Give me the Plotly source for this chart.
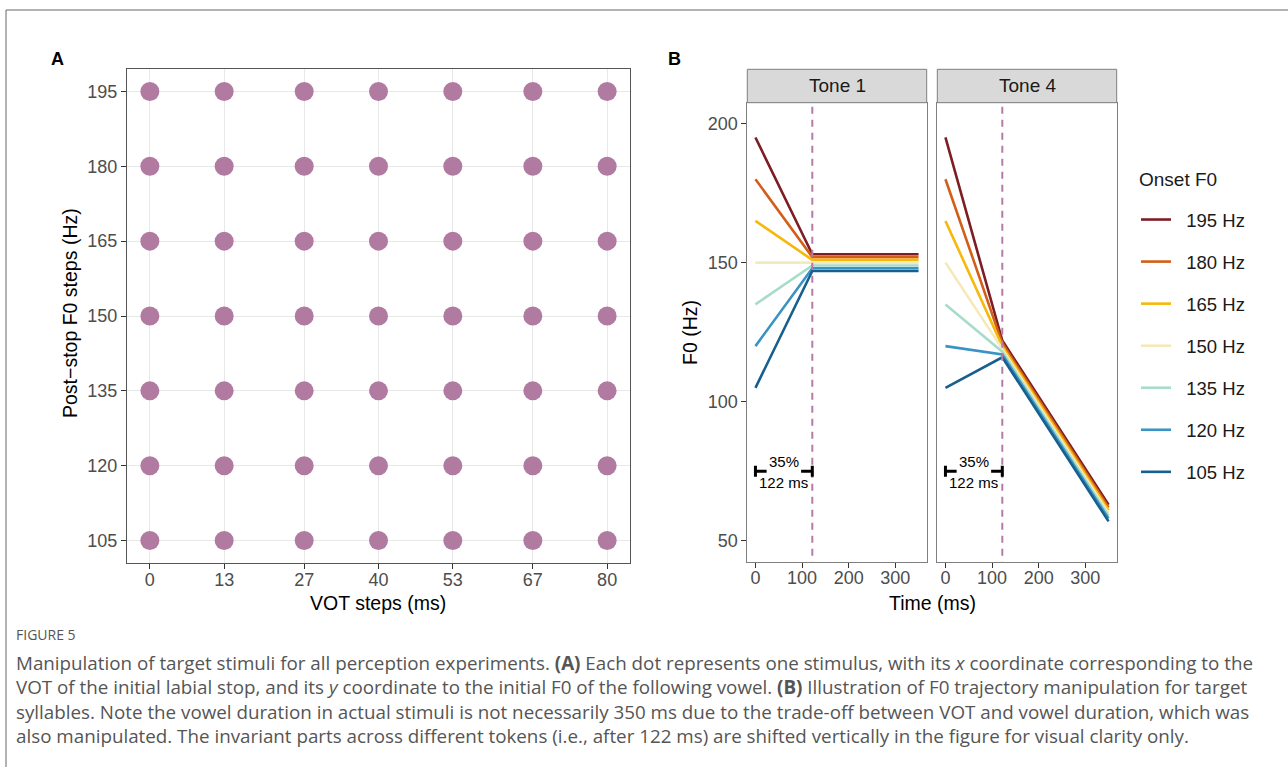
import plotly.graph_objects as go

W, H = 1288, 767

# ---------------- data ----------------
vot_steps = [0, 13, 27, 40, 53, 67, 80]
f0_steps = [105, 120, 135, 150, 165, 180, 195]

onset_labels = ["195 Hz", "180 Hz", "165 Hz", "150 Hz", "135 Hz", "120 Hz", "105 Hz"]
onset_f0 = [195, 180, 165, 150, 135, 120, 105]
onset_colors = ["#7d1d24", "#d35e17", "#f6b80a", "#f4e9b8", "#a7dccb", "#3a93c3", "#165f8e"]
# vertical display offsets of invariant parts (Hz)
display_offset = [3, 2, 1, 0, -1, -2, -3]

time_points = [0, 122, 350]
tone1_target = [150, 150]      # F0 at 122 ms and 350 ms (before offset)
tone4_target = [119, 60]

boundary_ms = 122
bracket_y = 75
bracket_gap = [24, 98]
bracket_tick_half = 2
bracket_top_label = "35%"
bracket_bottom_label = "122 ms"

# ---------------- helpers ----------------
def px(x):
    return x / W

def py(y):
    return 1 - y / H

FONT = "Liberation Sans, Arial, sans-serif"
TICKCOL = "#4d4d4d"

fig = go.Figure()

# Panel A grid of stimuli
xs, ys = [], []
for f in f0_steps:
    for v in vot_steps:
        xs.append(v)
        ys.append(f)
fig.add_trace(go.Scatter(x=xs, y=ys, mode="markers", xaxis="x", yaxis="y",
                         marker=dict(size=19, color="#b07aa1", line=dict(width=0)),
                         showlegend=False, hoverinfo="skip"))

# Panel B trajectories
NB = "\u00a0\u00a0"
for ax, target, show in (("2", tone1_target, True), ("3", tone4_target, False)):
    for lab, on, col, off in zip(onset_labels, onset_f0, onset_colors, display_offset):
        fig.add_trace(go.Scatter(
            x=time_points, y=[on, target[0] + off, target[1] + off],
            mode="lines", xaxis="x" + ax, yaxis="y" + ax,
            line=dict(color=col, width=2.6), name=NB + lab,
            showlegend=show, legendgroup=lab, hoverinfo="skip"))
    # dashed boundary
    fig.add_trace(go.Scatter(x=[boundary_ms, boundary_ms], y=[40, 210], mode="lines",
                             xaxis="x" + ax, yaxis="y" + ax,
                             line=dict(color="#b57ba6", width=2, dash="7px,6px"),
                             showlegend=False, hoverinfo="skip"))
    # bracket
    bx = [0, bracket_gap[0], None, bracket_gap[1], boundary_ms, None,
          0, 0, None, boundary_ms, boundary_ms]
    by = [bracket_y, bracket_y, None, bracket_y, bracket_y, None,
          bracket_y - bracket_tick_half, bracket_y + bracket_tick_half, None,
          bracket_y - bracket_tick_half, bracket_y + bracket_tick_half]
    fig.add_trace(go.Scatter(x=bx, y=by, mode="lines", xaxis="x" + ax, yaxis="y" + ax,
                             line=dict(color="black", width=3),
                             showlegend=False, hoverinfo="skip"))

# ---------------- axes ----------------
def tick_style(standoff=0):
    return dict(ticks="outside", ticklen=5, tickcolor="#333333", tickwidth=1,
                tickfont=dict(family=FONT, size=18, color=TICKCOL),
                ticklabelstandoff=standoff,
                showline=True, mirror=True, zeroline=False)

fig.update_layout(
    xaxis=dict(domain=[px(127), px(630)], range=[-4, 84], tickvals=vot_steps,
               showgrid=True, gridcolor="#e8e8e8", gridwidth=1.3, linecolor="#555555",
               anchor="y", **tick_style(-5)),
    yaxis=dict(domain=[py(563), py(69)], range=[100.5, 199.5], tickvals=f0_steps,
               showgrid=True, gridcolor="#e8e8e8", gridwidth=1.3, linecolor="#555555",
               anchor="x", **tick_style(0)),
    xaxis2=dict(domain=[px(747.3), px(926.7)], range=[-17.5, 367.5],
                tickvals=[0, 100, 200, 300], showgrid=False, linecolor="#7f7f7f",
                anchor="y2", **tick_style(-5)),
    yaxis2=dict(domain=[py(561.7), py(102.7)], range=[42.5, 207.5],
                tickvals=[50, 100, 150, 200], showgrid=False, linecolor="#7f7f7f",
                anchor="x2", **tick_style(0)),
    xaxis3=dict(domain=[px(937.3), px(1116.7)], range=[-17.5, 367.5],
                tickvals=[0, 100, 200, 300], showgrid=False, linecolor="#7f7f7f",
                anchor="y3", **tick_style(-5)),
    yaxis3=dict(domain=[py(561.7), py(102.7)], range=[42.5, 207.5],
                tickvals=[50, 100, 150, 200], showticklabels=False, ticks="",
                showgrid=False, linecolor="#7f7f7f", showline=True, mirror=True,
                zeroline=False, anchor="x3", matches="y2"),
)

# ---------------- shapes ----------------
shapes = [
    # outer frame
    dict(type="rect", xref="paper", yref="paper", x0=px(6), x1=px(1320), y0=py(820), y1=py(10),
         line=dict(color="#666666", width=1), fillcolor="rgba(0,0,0,0)", layer="below"),
]
for x0, x1 in ((747.3, 926.7), (937.3, 1116.7)):
    shapes.append(dict(type="rect", xref="paper", yref="paper", x0=px(x0), x1=px(x1),
                       y0=py(102.7), y1=py(69.3), fillcolor="#d9d9d9",
                       line=dict(color="#7f7f7f", width=1)))
fig.update_layout(shapes=shapes)

# ---------------- annotations ----------------
ann = []
def text(x, y, t, size=16, color="black", angle=0, family=FONT, xanchor="center", yanchor="middle", align="center"):
    ann.append(dict(x=px(x), y=py(y), xref="paper", yref="paper", text=t, showarrow=False,
                    font=dict(family=family, size=size, color=color), textangle=angle,
                    xanchor=xanchor, yanchor=yanchor, align=align))

text(57, 59, "<b>A</b>", size=18)
text(675, 59, "<b>B</b>", size=18)
text(378, 603, "VOT steps (ms)", size=19.5)
text(70, 313, "Post\u2212stop F0 steps (Hz)", size=19.5, angle=-90)
text(932, 603, "Time (ms)", size=19.5)
text(690, 333, "F0 (Hz)", size=19.5, angle=-90)
text(837, 86, "Tone 1", size=19, color="#1a1a1a")
text(1027, 86, "Tone 4", size=19, color="#1a1a1a")
text(1137, 180, "Onset F0", size=19, color="#1a1a1a", xanchor="left")

for ax in ("2", "3"):
    for lbl, yy in ((bracket_top_label, 78.4), (bracket_bottom_label, 70.9)):
        ann.append(dict(x=61, y=yy, xref="x" + ax, yref="y" + ax, text=lbl, showarrow=False,
                        font=dict(family=FONT, size=15, color="black")))

CAP = "Open Sans, Noto Sans, sans-serif"
CAPCOL = "#555555"
text(14, 634, "FIGURE 5", size=14, color=CAPCOL, family=CAP, xanchor="left")
cap_lines = [
    "Manipulation of target stimuli for all perception experiments. <b>(A)</b> Each dot represents one stimulus, with its <i>x</i> coordinate corresponding to the",
    "VOT of the initial labial stop, and its <i>y</i> coordinate to the initial F0 of the following vowel. <b>(B)</b> Illustration of F0 trajectory manipulation for target",
    "syllables. Note the vowel duration in actual stimuli is not necessarily 350 ms due to the trade-off between VOT and vowel duration, which was",
    "also manipulated. The invariant parts across different tokens (i.e., after 122 ms) are shifted vertically in the figure for visual clarity only.",
]
text(14, 647.5, "<br>".join(cap_lines), size=18.8, color=CAPCOL, family=CAP,
     xanchor="left", yanchor="top", align="left")

fig.update_layout(annotations=ann)

fig.update_layout(
    width=W, height=H, margin=dict(l=0, r=0, t=0, b=0),
    paper_bgcolor="white", plot_bgcolor="white",
    legend=dict(x=px(1136), y=py(201), xanchor="left", yanchor="top",
                font=dict(family=FONT, size=18.5, color="#1a1a1a"),
                tracegroupgap=15, traceorder="grouped", bgcolor="rgba(0,0,0,0)"),
)

fig.write_html("out.html")
